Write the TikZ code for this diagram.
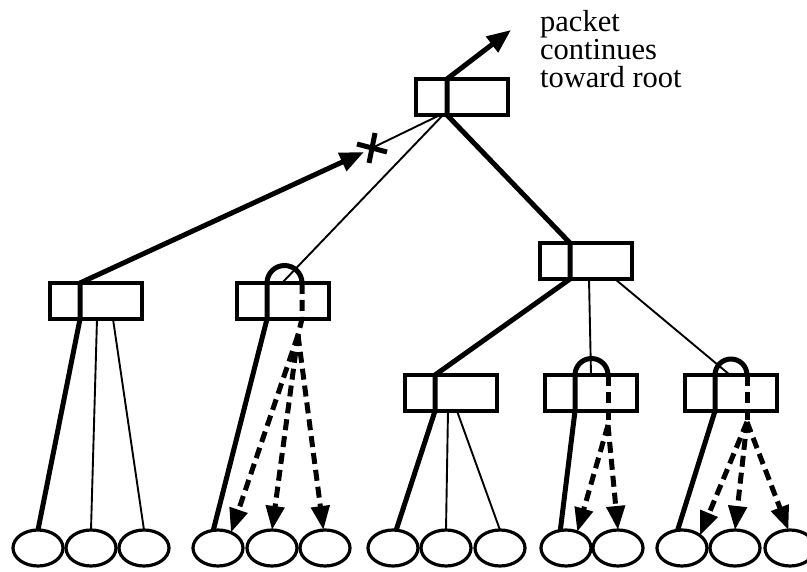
\documentclass[tikz,border=0pt]{standalone}
\usepackage{fontspec}
\setmainfont{Liberation Serif}
\usetikzlibrary{arrows.meta,shapes.geometric,calc}
\begin{document}
\begin{tikzpicture}[x=1pt,y=-1pt,
  box/.style={draw,line width=3.3pt,minimum width=92pt,minimum height=36pt,inner sep=0pt,outer sep=0pt},
  leaf/.style={draw,ellipse,line width=3.2pt,minimum width=50pt,minimum height=36pt,inner sep=0pt,outer sep=0pt},
  heavy/.style={line width=5pt,line join=round},
  light/.style={line width=1.9pt},
  tip/.style={-{Triangle[length=24pt,width=19pt]}},
  flood/.style={line width=5pt,dash pattern=on 11pt off 6pt},
  floodarrow/.style={flood,-{Triangle[length=24pt,width=18pt]}},
]
\useasboundingbox (0,0) rectangle (807,572);

% routers
\node[box] (root) at (462,97) {};
\node[box] (La) at (96,301) {};
\node[box] (Lb) at (283,301) {};
\node[box] (Lc) at (586,261) {};
\node[box] (Ma) at (451,393) {};
\node[box] (Mb) at (591,393) {};
\node[box] (Mc) at (731,393) {};

% hosts
\foreach \n/\x in {a1/38,a2/91,a3/144,b1/218,b2/272,b3/325,c1/393,c2/446,c3/500,d1/566,d2/618,e1/682,e2/735,e3/790}
  \node[leaf] (\n) at (\x,548) {};

% port dividers
\coordinate (root-t) at ($(root.north)+(-15,0)$);
\coordinate (root-b) at ($(root.south)+(-15,0)$);
\foreach \b in {La,Lb,Lc,Ma,Mb,Mc}{
  \coordinate (\b-t) at ($(\b.north)+(-16,0)$);
  \coordinate (\b-b) at ($(\b.south)+(-16,0)$);
}

% packet path toward the root
\coordinate (up) at (511,30);
\draw[heavy,tip] (Ma-t) -- (Lc-b) -- (Lc-t) -- (root-b) -- (root-t) -- (up);
\draw[heavy] (c1.80) -- (Ma-b) -- (Ma-t);

% blocked branch
\coordinate (cut) at (372,148);
\draw[heavy,tip] (a1.north) -- (La-b) -- (La-t) -- (364,152);
\draw[heavy] ($(cut)+(-15,-4)$) -- ($(cut)+(15,4)$);
\draw[heavy] ($(cut)+(3,-15)$) -- ($(cut)+(-3,15)$);
\draw[light] ($(root.south)+(-22,0)$) -- (cut);

% other links
\draw[light] ($(root.south)+(-19,0)$) -- ($(Lb.north)+(-1,0)$);
\draw[light] ($(La.south)+(1,0)$) -- (a2.north);
\draw[light] ($(La.south)+(17,0)$) -- (a3.north);
\draw[light] ($(Lc.south)+(3,0)$) -- (Mb.north);
\draw[light] ($(Lc.south)+(29,0)$) -- ($(Mc.north)+(-1,0)$);
\draw[light] ($(Ma.south)+(-3,0)$) -- (c2.north);
\draw[light] ($(Ma.south)+(6,0)$) -- (c3.north);

% reflected packets
\draw[heavy] (b1.105) -- (Lb-b) -- (Lb-t) arc[start angle=180,end angle=0,radius=17.5pt];
\coordinate (Lb-d) at ($(Lb.north)+(19,0)$);
\coordinate (Lb-f) at ($(Lb.south)+(15,16)$);
\draw[flood] (Lb-d) -- ($(Lb.south)+(19,0)$) -- (Lb-f);
\draw[floodarrow] (Lb-f) -- (b1.50);
\draw[floodarrow] (Lb-f) -- (b2.north);
\draw[floodarrow] (Lb-f) -- (b3.95);

\draw[heavy] (d1.108) -- (Mb-b) -- (Mb-t) arc[start angle=180,end angle=0,radius=16.5pt];
\coordinate (Mb-d) at ($(Mb.north)+(17,0)$);
\coordinate (Mb-f) at ($(Mb.south)+(17,14)$);
\draw[flood] (Mb-d) -- (Mb-f);
\draw[floodarrow] (Mb-f) -- (d1.55);
\draw[floodarrow] (Mb-f) -- (d2.north);

\draw[heavy] (e1.104) -- (Mc-b) -- (Mc-t) arc[start angle=180,end angle=0,radius=16pt];
\coordinate (Mc-d) at ($(Mc.north)+(16,0)$);
\coordinate (Mc-f) at ($(Mc.south)+(16,11)$);
\draw[flood] (Mc-d) -- (Mc-f);
\draw[floodarrow] (Mc-f) -- (e1.35);
\draw[floodarrow] (Mc-f) -- (e2.north);
\draw[floodarrow] (Mc-f) -- (e3.95);

% caption
\node[anchor=north west,align=left,inner sep=0pt,font=\fontsize{30.5}{28}\selectfont] (lbl) at (540,10) {packet\\continues\\toward root};
\end{tikzpicture}
\end{document}
